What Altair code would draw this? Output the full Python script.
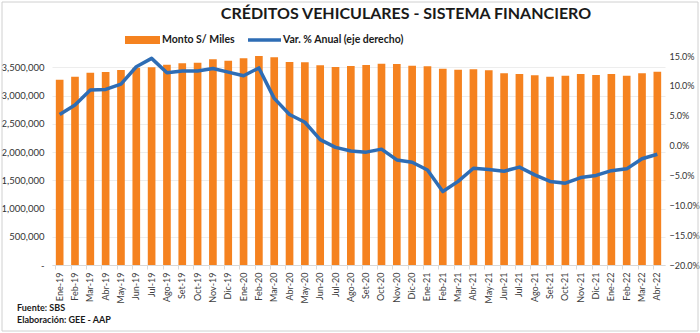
import altair as alt
import pandas as pd

meses = ["Ene-19","Feb-19","Mar-19","Abr-19","May-19","Jun-19","Jul-19","Ago-19","Set-19","Oct-19","Nov-19","Dic-19",
         "Ene-20","Feb-20","Mar-20","Abr-20","May-20","Jun-20","Jul-20","Ago-20","Set-20","Oct-20","Nov-20","Dic-20",
         "Ene-21","Feb-21","Mar-21","Abr-21","May-21","Jun-21","Jul-21","Ago-21","Set-21","Oct-21","Nov-21","Dic-21",
         "Ene-22","Feb-22","Mar-22","Abr-22"]
monto = [3280000, 3334000, 3405000, 3417000, 3452000, 3493000, 3500000, 3546000, 3570000, 3582000, 3641000, 3617000,
         3659000, 3700000, 3677000, 3594000, 3588000, 3535000, 3505000, 3523000, 3541000, 3564000, 3558000, 3529000,
         3517000, 3475000, 3458000, 3464000, 3446000, 3393000, 3381000, 3358000, 3334000, 3352000, 3381000, 3364000,
         3381000, 3352000, 3393000, 3422000]
var_pct = [0.052, 0.068, 0.093, 0.094, 0.103, 0.132, 0.146, 0.122, 0.125, 0.125, 0.129, 0.123,
           0.117, 0.130, 0.079, 0.052, 0.039, 0.010, -0.003, -0.009, -0.011, -0.006, -0.024, -0.028,
           -0.041, -0.077, -0.060, -0.038, -0.040, -0.043, -0.036, -0.049, -0.060, -0.063, -0.0535, -0.050,
           -0.042, -0.039, -0.022, -0.0145]

df = pd.DataFrame({"mes": meses, "monto": monto, "var": var_pct})

ORANGE = "#F5821F"
BLUE = "#2E6DB5"
FONT = "Lato"
W, H = 613, 209

xenc = alt.X("mes:N", sort=meses, title=None,
             scale=alt.Scale(paddingInner=0.5, paddingOuter=0.25),
             axis=alt.Axis(labelAngle=270, labelFontSize=9, labelColor="#404040", labelFont=FONT,
                           domainColor="#D9D9D9", tickColor="#D9D9D9", tickSize=4, labelPadding=3,
                           bandPosition=0))

bars = alt.Chart(df).mark_bar(color=ORANGE).encode(
    x=xenc,
    y=alt.Y("monto:Q", title=None,
            scale=alt.Scale(domain=[0, 3700000], nice=False, zero=True),
            axis=alt.Axis(values=[0, 500000, 1000000, 1500000, 2000000, 2500000, 3000000, 3500000],
                          labelExpr="datum.value == 0 ? '-' : format(datum.value, ',')",
                          labelFontSize=9.5, labelColor="#333333", labelFont=FONT, labelPadding=8,
                          domain=False, ticks=False, grid=True, gridColor="#EDEDED", gridWidth=1)),
)

line = alt.Chart(df).mark_line(color=BLUE, strokeWidth=3.5, strokeJoin="round").encode(
    x=alt.X("mes:N", sort=meses),
    y=alt.Y("var:Q", title=None,
            scale=alt.Scale(domain=[-0.20, 0.15], nice=False, zero=False),
            axis=alt.Axis(orient="right", values=[-0.20, -0.15, -0.10, -0.05, 0.0, 0.05, 0.10, 0.15],
                          format=".1%", labelFontSize=9, labelColor="#333333", labelFont=FONT,
                          labelPadding=4, domain=False, ticks=False, grid=False)),
)

data_layers = alt.layer(bars, line).resolve_scale(y="independent")

# Decorations: title, legend, notes, frame
title_df = pd.DataFrame({"t": ["CRÉDITOS VEHICULARES - SISTEMA FINANCIERO"]})
title = alt.Chart(title_df).mark_text(fontSize=16, fontWeight="bold", font=FONT, color="#1A1A1A",
                                      align="center", baseline="middle").encode(
    text="t:N", x=alt.value(354), y=alt.value(-42))

leg_rect = alt.Chart(title_df).mark_rect(color=ORANGE).encode(
    x=alt.value(73), x2=alt.value(108), y=alt.value(-20), y2=alt.value(-12))
leg_text1 = alt.Chart(pd.DataFrame({"t": ["Monto S/ Miles"]})).mark_text(
    fontSize=10.5, fontWeight="bold", font=FONT, color="#1A1A1A", align="left", baseline="middle").encode(
    text="t:N", x=alt.value(110), y=alt.value(-16))
leg_line = alt.Chart(title_df).mark_rule(color=BLUE, strokeWidth=3.5).encode(
    x=alt.value(196), x2=alt.value(229), y=alt.value(-16))
leg_text2 = alt.Chart(pd.DataFrame({"t": ["Var. % Anual (eje derecho)"]})).mark_text(
    fontSize=10.5, fontWeight="bold", font=FONT, color="#1A1A1A", align="left", baseline="middle").encode(
    text="t:N", x=alt.value(231), y=alt.value(-16))

notes = alt.Chart(pd.DataFrame({"t": ["Fuente: SBS", "Elaboración: GEE - AAP"], "yy": [252, 264]})).mark_text(
    fontSize=9, fontWeight="bold", font=FONT, color="#1A1A1A", align="left", baseline="middle").encode(
    text="t:N", x=alt.value(-35), y=alt.Y("yy:Q", scale=None))

frame = alt.Chart(title_df).mark_rect(fill=None, stroke="#D0D0D0", strokeWidth=1).encode(
    x=alt.value(-50), x2=alt.value(646), y=alt.value(-54), y2=alt.value(275))

chart = alt.layer(data_layers, title, leg_rect, leg_text1, leg_line, leg_text2, notes, frame).properties(
    width=W, height=H,
    padding={"left": 52, "top": 56, "right": 35, "bottom": 68},
    autosize=alt.AutoSizeParams(type="none"),
    background="white",
).configure_view(stroke=None)

chart.save("out.html", embed_options={"renderer": "svg", "actions": False})
